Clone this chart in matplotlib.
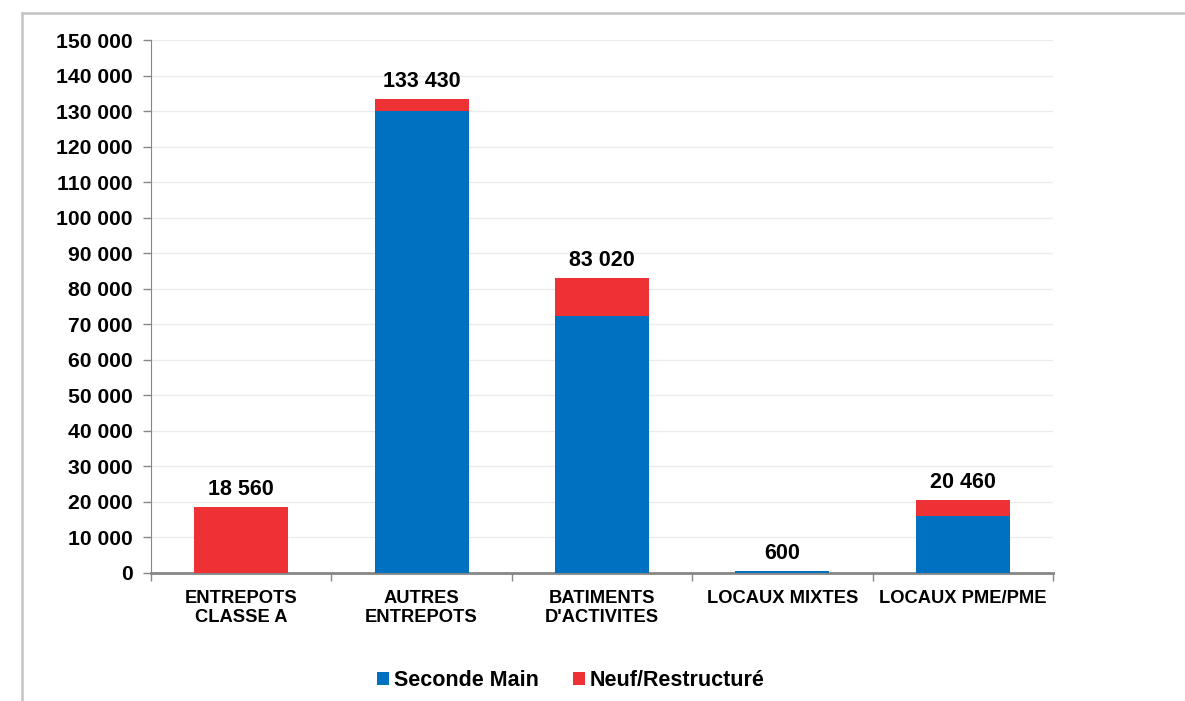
import matplotlib
matplotlib.use("Agg")
import matplotlib.pyplot as plt
from matplotlib.lines import Line2D
from matplotlib.ticker import FuncFormatter, FixedLocator
import numpy as np

categories = ["ENTREPOTS\nCLASSE A", "AUTRES\nENTREPOTS", "BATIMENTS\nD'ACTIVITES",
              "LOCAUX MIXTES", "LOCAUX PME/PME"]
seconde_main = [0, 130000, 72300, 600, 16100]
neuf_restructure = [18560, 3430, 10720, 0, 4360]
totals = [18560, 133430, 83020, 600, 20460]
series_names = ["Seconde Main", "Neuf/Restructuré"]

BLUE = "#0070C0"
RED = "#EE3134"

plt.rcParams['font.family'] = ['Liberation Sans', 'DejaVu Sans']
plt.rcParams['font.weight'] = 'bold'

fig = plt.figure(figsize=(11.85, 7.01), dpi=100)
W, H = 1185, 701
ax = fig.add_axes([151 / W, 1 - 573 / H, (1053 - 151) / W, (573 - 40) / H])

x = np.arange(len(categories))
bw = 0.52
ax.bar(x, seconde_main, bw, color=BLUE, label=series_names[0], zorder=3)
ax.bar(x, neuf_restructure, bw, bottom=seconde_main, color=RED, label=series_names[1], zorder=3)

fmt = lambda v: f"{int(round(v)):,}".replace(",", " ")
for xi, t in zip(x, totals):
    ax.annotate(fmt(t), (xi, t), xytext=(0, 5), textcoords="offset points",
                ha="center", va="bottom", fontsize=15.5, fontweight="bold")

ax.set_xlim(-0.5, len(categories) - 0.5)
ax.set_ylim(0, 150000)
ax.yaxis.set_major_locator(FixedLocator(np.arange(0, 150001, 10000)))
ax.yaxis.set_major_formatter(FuncFormatter(lambda v, p: fmt(v)))
ax.set_xticks(x)
ax.set_xticklabels(categories, fontsize=13.2, fontweight="bold", linespacing=1.15)
ax.set_xticks(np.arange(-0.5, len(categories), 1.0), minor=True)
ax.tick_params(axis="x", which="major", length=0, pad=12)
ax.tick_params(axis="x", which="minor", length=6, color="#868686", width=1)
ax.tick_params(axis="y", length=6, color="#868686", width=1, labelsize=15.2, pad=7)
for lab in ax.get_yticklabels():
    lab.set_fontweight("bold")

ax.grid(axis="y", color="#ebebeb", linewidth=1, zorder=0)
for s in ["top", "right"]:
    ax.spines[s].set_visible(False)
ax.spines["left"].set_color("#868686")
ax.spines["bottom"].set_color("#868686")
ax.spines["bottom"].set_linewidth(2)

leg = fig.legend(loc="center", bbox_to_anchor=(571 / W, 1 - 681 / H), ncol=2, frameon=False,
                 prop={"size": 15.5, "weight": "bold"}, handlelength=0.55, handleheight=0.55,
                 handletextpad=0.25, columnspacing=1.55)

# outer frame
fig.add_artist(Line2D([22 / W, 1.0], [1 - 12.5 / H, 1 - 12.5 / H], color="#c4c4c4", linewidth=1.8,
                      transform=fig.transFigure))
fig.add_artist(Line2D([22 / W, 22 / W], [1 - 12.5 / H, 0], color="#c4c4c4", linewidth=1.8,
                      transform=fig.transFigure))

fig.savefig("out.png", dpi=100)
